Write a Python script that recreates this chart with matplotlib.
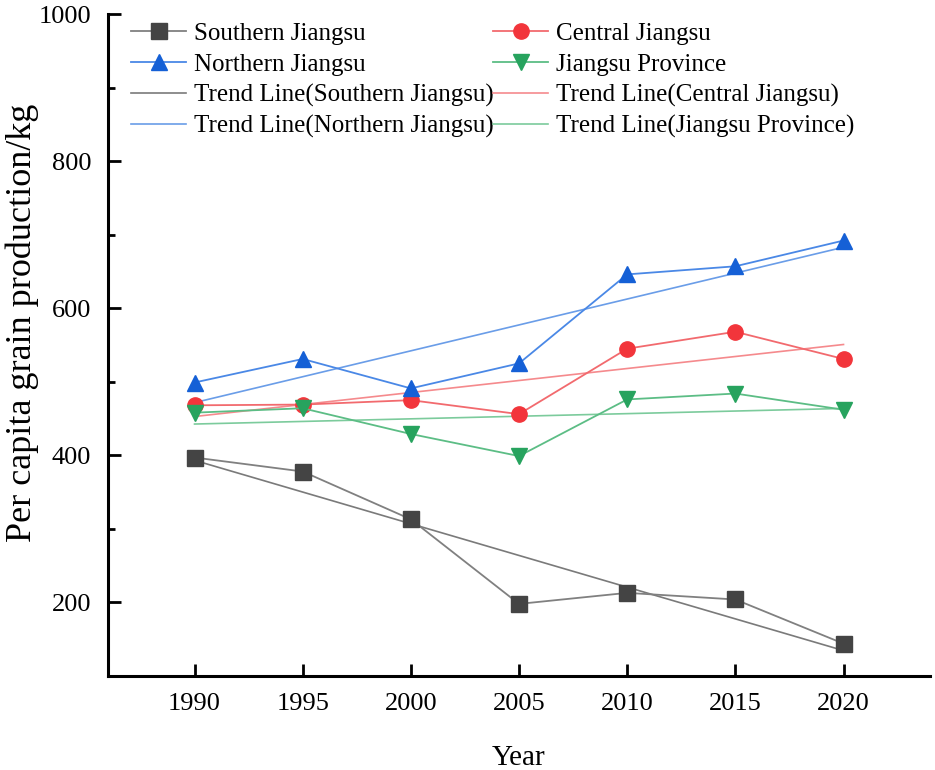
import matplotlib.pyplot as plt
import numpy as np

plt.rcParams['font.family'] = ['Liberation Serif', 'DejaVu Serif']

years = [1990, 1995, 2000, 2005, 2010, 2015, 2020]
southern = [397, 378, 313, 198, 213, 204, 144]
central = [468, 469, 475, 456, 545, 568, 531]
northern = [499, 531, 491, 525, 646, 657, 692]
province = [458, 464, 429, 399, 476, 484, 462]

series = [
    ("Southern Jiangsu", southern, "s", "#444444", "#808080", "#7a7a7a"),
    ("Central Jiangsu", central, "o", "#f2353b", "#f26a6e", "#f58a8d"),
    ("Northern Jiangsu", northern, "^", "#1560d6", "#4a88e6", "#6a9de8"),
    ("Jiangsu Province", province, "v", "#27a35e", "#5cbd85", "#7ccb9c"),
]

fig = plt.figure(figsize=(9.35, 7.7), dpi=100)
ax = fig.add_axes([0.1155, 0.1221, 0.8792, 0.8597])

x = np.array(years)
handles_data = []
for name, vals, mk, mcol, lcol, tcol in series:
    h, = ax.plot(years, vals, color=lcol, lw=1.3, marker=mk,
                 markersize=12 if mk in "^v" else 11,
                 markerfacecolor=mcol, markeredgecolor=mcol, label=name, zorder=3)
    handles_data.append(h)

# linear trend per series
handles_trend = []
for name, vals, mk, mcol, lcol, tcol in series:
    k, b = np.polyfit(x, vals, 1)
    h, = ax.plot(years, k * x + b, color=tcol, lw=1.2, label=f"Trend Line({name})", zorder=2)
    handles_trend.append(h)

ax.set_xlim(1986, 2024)
ax.set_ylim(100, 1000)
ax.set_xticks(years)
ax.set_yticks([200, 400, 600, 800, 1000])
ax.set_yticks([300, 500, 700, 900], minor=True)

for s in ["top", "right"]:
    ax.spines[s].set_visible(False)
for s in ["left", "bottom"]:
    ax.spines[s].set_linewidth(2.2)

ax.tick_params(axis="both", which="major", direction="in", length=9, width=2,
               labelsize=19, pad=12)
ax.tick_params(axis="y", which="minor", direction="in", length=5, width=2)

ax.set_xlabel("Year", fontsize=21, labelpad=22)
ax.set_ylabel("Per capita grain production/kg", fontsize=26)
ax.yaxis.set_label_coords(-0.084, 0.533)

order = [handles_data[0], handles_data[2], handles_trend[0], handles_trend[2],
         handles_data[1], handles_data[3], handles_trend[1], handles_trend[3]]
ax.legend(handles=order, labels=[h.get_label() for h in order], ncol=2,
          loc="upper left", bbox_to_anchor=(0.01, 1.01), frameon=False,
          fontsize=18, handlelength=2.2, handletextpad=0.3, columnspacing=0.0,
          labelspacing=0.33, borderaxespad=0.2)

fig.savefig("out.png", dpi=100)
